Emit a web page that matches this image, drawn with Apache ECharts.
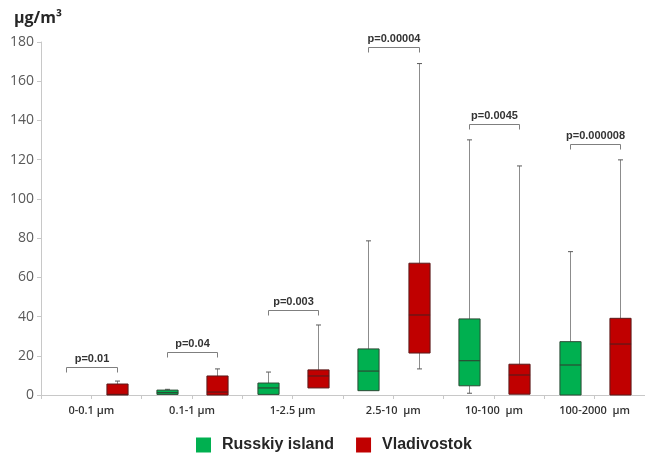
<!DOCTYPE html>
<html><head><meta charset="utf-8">
<script src="https://cdn.jsdelivr.net/npm/echarts@6/dist/echarts.min.js"></script>
<style>html,body{margin:0;padding:0;background:#fff}#c{width:645px;height:453px}</style>
</head><body><div id="c"></div>
<script>
const groups = ['0-0.1 µm', '0.1-1 µm', '1-2.5 µm', '2.5-10  µm', '10-100  µm', '100-2000  µm'];
const slots = ['s0','s1','s2','s3','s4','s5','s6','s7','s8','s9','s10','s11'];
// [min, q1, median, q3, max] per group
const russkiy = [
  null,
  [0.3, 0.3, 1.2, 2.5, 2.9],
  [0.3, 0.3, 3.6, 6.1, 11.7],
  [2.2, 2.2, 12.2, 23.5, 78.6],
  [0.9, 4.7, 17.5, 38.8, 130.1],
  [0, 0, 15.3, 27.2, 73.1]
];
const vladivostok = [
  [0, 0, 0.3, 5.6, 7.1],
  [0, 0, 1.5, 9.7, 13.3],
  [3.6, 3.6, 9.7, 12.8, 35.7],
  [13.3, 21.4, 40.8, 67.2, 169.0],
  [0.4, 0.4, 10.2, 15.7, 116.8],
  [0, 0, 26.0, 39.1, 119.9]
];
const pLabels = ['p=0.01', 'p=0.04', 'p=0.003', 'p=0.00004', 'p=0.0045', 'p=0.000008'];
const bracketY = [14.1, 21.8, 43.4, 177.2, 138.1, 127.9];
const yTicks = { min: 0, max: 180, interval: 20 };

const greenData = [], redData = [];
russkiy.forEach((v, i) => { if (v) greenData.push([2 * i].concat(v)); });
vladivostok.forEach((v, i) => { if (v) redData.push([2 * i + 1].concat(v)); });
const bracketData = bracketY.map((y, i) => [2 * i, y, 2 * i + 1]);

function makeBoxRenderer(fill, border) {
  return function (params, api) {
    const x = api.value(0);
    const pMin = api.coord([x, api.value(1)]);
    const pQ1 = api.coord([x, api.value(2)]);
    const pMed = api.coord([x, api.value(3)]);
    const pQ3 = api.coord([x, api.value(4)]);
    const pMax = api.coord([x, api.value(5)]);
    const cx = Math.round(pMin[0]) + 0.5;
    const w = api.size([1, 0])[0] * 0.42;
    const cap = 2.5;
    const wl = { stroke: '#8c8c8c', lineWidth: 1 };
    const children = [
      { type: 'line', shape: { x1: cx, y1: pMax[1], x2: cx, y2: pQ3[1] }, style: wl },
      { type: 'line', shape: { x1: cx - cap, y1: pMax[1], x2: cx + cap, y2: pMax[1] }, style: { stroke: '#595959', lineWidth: 1 } },
      { type: 'line', shape: { x1: cx, y1: pQ1[1], x2: cx, y2: pMin[1] }, style: wl }
    ];
    if (pQ1[1] - pMin[1] < -1) {
      children.push({ type: 'line', shape: { x1: cx - cap, y1: pMin[1], x2: cx + cap, y2: pMin[1] }, style: { stroke: '#595959', lineWidth: 1 } });
    }
    children.push({ type: 'rect', shape: { x: cx - w / 2, y: pQ3[1], width: w, height: pQ1[1] - pQ3[1] }, style: { fill: fill, stroke: border, lineWidth: 1 } });
    children.push({ type: 'line', shape: { x1: cx - w / 2, y1: pMed[1], x2: cx + w / 2, y2: pMed[1] }, style: { stroke: border, lineWidth: 1.2 } });
    return { type: 'group', children: children };
  };
}

const chart = echarts.init(document.getElementById('c'), null, { renderer: 'canvas' });
chart.setOption({
  animation: false,
  backgroundColor: '#ffffff',
  title: {
    text: 'µg/m³', left: 9, top: 5,
    textStyle: { fontFamily: 'Open Sans', fontSize: 16, fontWeight: 'bold', color: '#262626' }
  },
  legend: {
    top: 432, left: 191,
    itemWidth: 15, itemHeight: 15, itemGap: 22,
    textStyle: { fontFamily: 'Liberation Sans', fontSize: 16, fontWeight: 'bold', color: '#262626', padding: [0, 0, 0, 6] },
    data: [{ name: 'Russkiy island', icon: 'rect' }, { name: 'Vladivostok', icon: 'rect' }]
  },
  grid: { left: 41, top: 42, width: 606, height: 353 },
  xAxis: [
    {
      type: 'category', data: groups, position: 'bottom',
      axisLine: { show: false }, axisTick: { show: false },
      axisLabel: { fontFamily: 'Open Sans', fontSize: 11, fontWeight: 600, color: '#333333', margin: 10, interval: 0 }
    },
    {
      type: 'category', data: slots, position: 'bottom',
      axisLine: { lineStyle: { color: '#c8c8c8' } },
      axisTick: { show: true, interval: 0, length: 4, lineStyle: { color: '#c8c8c8' } },
      axisLabel: { show: false }
    }
  ],
  yAxis: {
    type: 'value', min: yTicks.min, max: yTicks.max, interval: yTicks.interval,
    splitLine: { show: false },
    axisLine: { show: true, lineStyle: { color: '#c8c8c8' } },
    axisTick: { show: true, length: 4, lineStyle: { color: '#c8c8c8' } },
    axisLabel: { fontFamily: 'Open Sans', fontSize: 14, color: '#595959', margin: 7 }
  },
  series: [
    {
      name: 'Russkiy island', type: 'custom', xAxisIndex: 1,
      itemStyle: { color: '#00b050' },
      encode: { x: 0, y: [1, 2, 3, 4, 5] },
      renderItem: makeBoxRenderer('#00b050', '#2b4a34'),
      data: greenData
    },
    {
      name: 'Vladivostok', type: 'custom', xAxisIndex: 1,
      itemStyle: { color: '#c00000' },
      encode: { x: 0, y: [1, 2, 3, 4, 5] },
      renderItem: makeBoxRenderer('#c00000', '#5a1a1a'),
      data: redData
    },
    {
      name: 'brackets', type: 'custom', xAxisIndex: 1,
      encode: { x: [0, 2], y: 1 },
      renderItem: function (params, api) {
        const a = api.coord([api.value(0), api.value(1)]);
        const b = api.coord([api.value(2), api.value(1)]);
        const y = Math.round(a[1]) + 0.5;
        const x1 = Math.round(a[0]) + 0.5, x2 = Math.round(b[0]) + 0.5;
        return {
          type: 'group', children: [
            { type: 'polyline', shape: { points: [[x1, y + 5], [x1, y], [x2, y], [x2, y + 5]] }, style: { stroke: '#7f7f7f', lineWidth: 1, fill: null } },
            { type: 'text', style: { x: (x1 + x2) / 2, y: y - 3, text: pLabels[params.dataIndex], textAlign: 'center', textVerticalAlign: 'bottom', fontFamily: 'Liberation Sans', fontSize: 11, fontWeight: 'bold', fill: '#333333' } }
          ]
        };
      },
      data: bracketData
    }
  ]
});
</script>
</body></html>
